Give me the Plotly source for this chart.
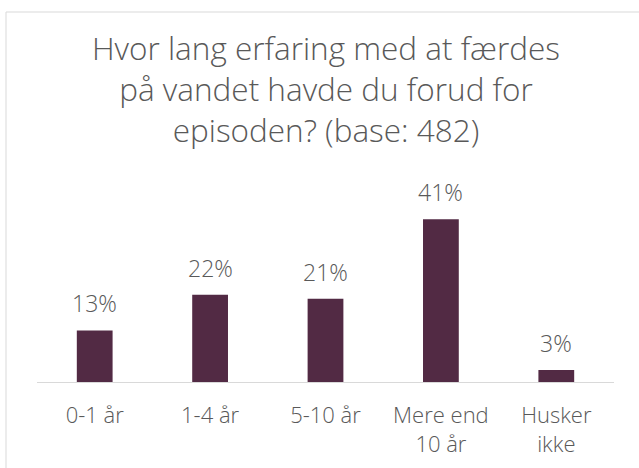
import plotly.graph_objects as go

categories = ["0-1 år", "1-4 år", "5-10 år", "Mere end<br>10 år", "Husker<br>ikke"]
values = [13, 22, 21, 41, 3]
labels = ["13%", "22%", "21%", "41%", "3%"]
title_text = "Hvor lang erfaring med at færdes<br>på vandet havde du forud for<br>episoden? (base: 482)"

W, H = 639, 468
L, R, T, B = 37, 25, 190, 86
pw, ph = W - L - R, H - T - B
FONT = "Open Sans"

fig = go.Figure(go.Bar(
    x=categories, y=values,
    marker=dict(color="#522A44", line=dict(width=0)),
    hoverinfo="skip",
))

for c, v, t in zip(categories, values, labels):
    fig.add_annotation(x=c, y=v, text=t, showarrow=False, yanchor="bottom",
                       yshift=9, font=dict(family=FONT, size=23, color="#595959", weight=300))

fig.update_layout(
    width=W, height=H,
    margin=dict(l=L, r=R, t=T, b=B),
    paper_bgcolor="white", plot_bgcolor="white",
    bargap=0.69,
    showlegend=False,
    title=dict(text=title_text, x=326 / W, xanchor="center", xref="container",
               y=1 - 60 / H, yanchor="top", yref="container",
               font=dict(family=FONT, size=31.5, color="#595959", weight=300)),
    xaxis=dict(showline=True, linecolor="#D9D9D9", linewidth=1, ticks="",
               showgrid=False, zeroline=False, automargin=False,
               tickfont=dict(family=FONT, size=22, color="#595959", weight=300),
               ticklabelstandoff=14),
    yaxis=dict(visible=False, range=[0, ph / 3.97], showgrid=False, zeroline=False,
               automargin=False),
    shapes=[dict(type="rect", xref="paper", yref="paper",
                 x0=(6 - L) / pw, x1=(W + 10 - L) / pw,
                 y0=-(B + 10) / ph, y1=(H - B - 12) / ph,
                 line=dict(color="#D9D9D9", width=1), fillcolor="rgba(0,0,0,0)",
                 layer="below")],
)

fig.write_html("out.html", config={"displayModeBar": False},
               post_script="document.body.style.margin='0';")
